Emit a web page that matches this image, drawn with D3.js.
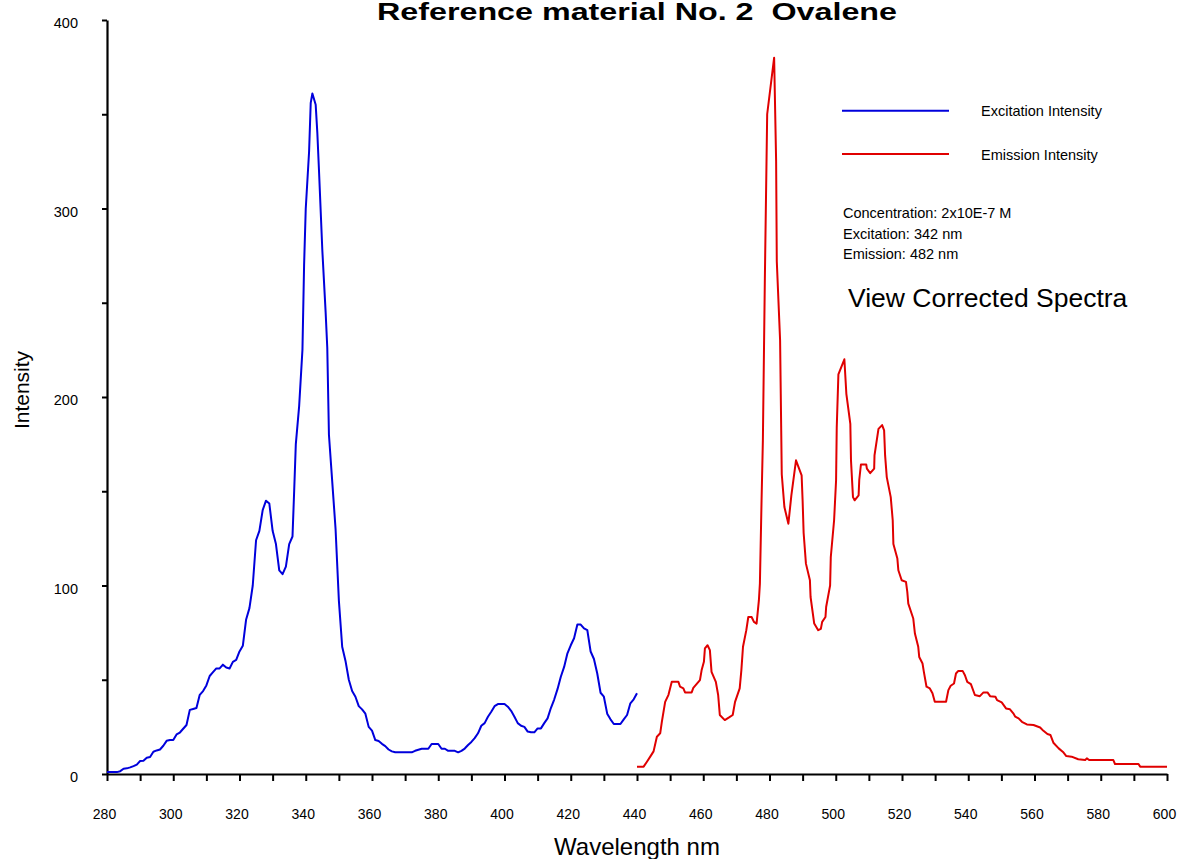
<!DOCTYPE html>
<html>
<head>
<meta charset="utf-8">
<script src="https://cdn.jsdelivr.net/npm/d3@7"></script>
<style>
  html, body { margin: 0; padding: 0; background: #fff; }
  svg { display: block; font-family: "Liberation Sans", Arial, sans-serif; }
</style>
</head>
<body>
<svg id="chart" width="1178" height="859"></svg>
<script>
// Ovalene reference spectra: excitation (blue) and emission (red), intensity vs wavelength
const excitationNm = [
  280, 283, 284, 285, 286, 287, 288, 289, 290, 291, 292, 293, 294, 295, 296, 297, 298, 299, 300,
  301, 302, 303, 304, 305, 306, 307, 308, 309, 310, 311, 312, 313, 314, 315, 316, 317, 318, 319, 320,
  321, 322, 323, 324, 325, 326, 327, 328, 329, 330, 331, 332, 333, 334, 335, 336, 336.5, 337, 338,
  339, 339.5, 340, 341, 341.5, 342, 343, 343.5, 344, 345, 346, 346.5, 347, 348, 349, 350, 351, 352,
  353, 354, 355, 356, 357, 358, 359, 360, 361, 362, 363, 364, 365, 366, 367, 372, 373, 375, 377, 378,
  380, 381, 382, 383, 385, 386, 387, 388, 389, 390, 391, 392, 393, 394, 395, 396, 397, 398, 399, 400,
  401, 402, 403, 404, 405, 406, 407, 408, 409, 410, 411, 412, 413, 414, 415, 416, 417, 418, 419, 420,
  421, 422, 423, 424, 425, 426, 427, 428, 429, 430, 431, 432, 433, 435, 436, 437, 438, 439, 440
];
const excitationIntensity = [
  1, 1, 1.5, 2.8, 3, 3.5, 4.2, 5, 6.9, 7, 8.6, 9, 11.8, 12.5, 13, 15, 17.6, 18, 18,
  21, 22, 24, 26, 34, 34.5, 35, 42, 44, 47, 52, 54, 56, 56, 58, 56.5, 56, 59.5, 60.5, 65,
  68, 82, 88, 100, 124, 129, 140, 145, 143.5, 129, 122, 108, 106, 110, 122, 126, 150, 175, 195,
  225, 270, 300, 330, 356, 361, 355, 340, 320, 278, 245, 226, 180, 155, 130, 92, 67.5, 60,
  50, 44, 41, 36, 34.3, 32, 25, 23, 18, 17.5, 16, 14.8, 13, 12, 11.5, 11.5, 12.3, 13.4, 13.4, 15.9,
  15.9, 13.4, 13.4, 12.3, 12.3, 11.5, 12.3, 13.5, 15.4, 17, 19, 21.6, 25.6, 27, 30.4, 33, 36, 37.1, 37.1, 37.1,
  35.7, 33.5, 30.4, 27, 25.6, 25, 22.5, 22.1, 22.1, 24.2, 24.2, 27, 29.5, 35, 39.5, 45, 51.6, 56.8, 64, 68.3,
  72, 79.3, 79.3, 77.2, 76.3, 65, 61, 53.3, 43.1, 41, 32, 29, 26.5, 26.5, 29, 31.3, 37.5, 39.6, 42.8
];

const emissionNm = [
  440, 442, 443, 444, 445, 446, 447, 447.5, 448.5, 449.5, 450.5, 452.5, 453, 454, 454.5, 456.5, 457,
  459, 459.5, 460.2, 460.5, 461.3, 462, 462.5, 463.8, 464.5, 465, 466.5, 467.8, 468.9, 469.6, 471,
  471.5, 472, 473, 473.6, 474.6, 475.3, 476.1, 476.8, 477.1, 477.6, 478, 478.6, 479.3, 481.4, 482,
  482.2, 483.2, 483.7, 484.5, 485.7, 486.6, 488, 489.7, 490, 490.3, 491, 492.2, 492.4, 493.5, 494.7,
  495.5, 495.9, 496.9, 497.1, 498.3, 498.5, 499.5, 500.1, 500.3, 500.8, 502.6, 503.2, 504.4, 504.6,
  505.2, 505.7, 506.9, 507.1, 507.6, 509.2, 509.4, 510.4, 511.6, 511.7, 512.9, 514, 514.6, 514.9,
  515.4, 516.6, 517.2, 517.4, 518.6, 518.9, 519.9, 521.2, 521.6, 521.9, 523.4, 523.9, 524.9, 525.2,
  526.2, 526.6, 527.4, 528.4, 529.2, 529.9, 533.3, 534, 534.7, 535.7, 536.3, 537, 538.3, 539, 539.7,
  540.8, 542, 543.5, 544.6, 545.8, 546.6, 548.2, 548.7, 550.1, 551.4, 552.6, 553.6, 554.2, 555.2,
  556.2, 557.7, 559.7, 561.7, 562.7, 563.9, 564.8, 565.7, 567.3, 568.6, 569.6, 571.2, 573.2, 575.3,
  575.8, 576.5, 583.8, 584.3, 591.4, 591.9, 600
];
const emissionIntensity = [
  3.9, 3.9, 6.5, 9.2, 12, 19.8, 21.6, 27.7, 38.3, 42, 48.9, 48.9, 46.3, 45.4, 43.3, 43.3, 45.7,
  49.8, 55, 59.5, 66.6, 68.3, 65.7, 54.2, 48.9, 41.9, 31.3, 28.6, 30, 31.3, 38.3, 45.4,
  55, 67.5, 76.3, 83.3, 83.3, 80.7, 79.8, 92.2, 101, 145, 177, 263, 350, 380, 325,
  272, 230, 159, 141.6, 132.8, 147.8, 166.4, 158.4, 145, 128, 111.6, 102.8, 93.9, 79.8, 76.3,
  77, 80.7, 83.3, 88.6, 100.1, 115, 134.6, 155.8, 184, 212, 220, 201.7, 185.8, 166.4,
  146.9, 145.2, 147.8, 156.1, 164.2, 164.2, 162, 159.6, 162, 169, 183.1, 185.1, 182.3, 169,
  157.5, 146.9, 134.6, 122, 114.3, 108.1, 102.8, 101.9, 96.6, 90.4, 82.5, 74.5, 67.5, 62.1,
  58.6, 54.2, 46.3, 45.4, 42.8, 38.3, 38.3, 44.5, 46.8, 48, 53.3, 54.7, 54.7, 52.4, 48.9,
  47.7, 41.9, 41.3, 43.3, 43.3, 41.3, 41, 39.2, 38, 34.8, 34.3, 32.2, 30.4, 29.5,
  27.7, 26.3, 26, 24.7, 22.9, 21.2, 20.7, 16.6, 13.6, 11.7, 9.5, 9.2, 7.8, 7.4,
  8.3, 7.4, 7.4, 5.3, 5.3, 3.9, 3.9
];

const xTickValues = d3.range(280, 601, 10);
const yTickValues = d3.range(0, 401, 50);
const seriesNames = ["Excitation Intensity", "Emission Intensity"];
const infoLines = ["Concentration: 2x10E-7 M", "Excitation: 342 nm", "Emission: 482 nm"];
const titleText = "Reference material No. 2  Ovalene";

const blue = "#0000dc";
const red = "#e00000";

const svg = d3.select("#chart");

const x = d3.scaleLinear().domain([280, 600]).range([107, 1167]);
const y = d3.scaleLinear().domain([0, 400]).range([774, 20]);

// Axes
const xAxis = svg.append("g")
  .attr("transform", `translate(0,${y(0)})`)
  .call(d3.axisBottom(x).tickValues(xTickValues).tickSize(7).tickSizeOuter(0)
    .tickFormat(d => d % 20 === 0 ? d : ""));
xAxis.select(".domain").attr("stroke", "#000").attr("stroke-width", 2.2);
xAxis.selectAll(".tick line").attr("stroke", "#000").attr("stroke-width", 2);
xAxis.selectAll(".tick text")
  .attr("x", -3).attr("y", 45).attr("dy", 0)
  .attr("fill", "#000").style("font-size", "14px")
  .style("font-family", "'Liberation Sans', Arial, sans-serif");

const yAxis = svg.append("g")
  .attr("transform", `translate(${x(280)},0)`)
  .call(d3.axisLeft(y).tickValues(yTickValues).tickSize(5).tickSizeOuter(0)
    .tickFormat(d => d % 100 === 0 ? d : ""));
yAxis.select(".domain").attr("stroke", "#000").attr("stroke-width", 2.2);
yAxis.selectAll(".tick line").attr("stroke", "#000").attr("stroke-width", 2);
yAxis.selectAll(".tick text")
  .attr("x", -29).attr("dy", "0.52em")
  .attr("fill", "#000").style("font-size", "14.5px")
  .style("font-family", "'Liberation Sans', Arial, sans-serif");

// Spectra
const line = d3.line().x(d => x(d[0])).y(d => y(d[1]));
const excitation = d3.zip(excitationNm, excitationIntensity);
const emission = d3.zip(emissionNm, emissionIntensity);

svg.append("path").datum(excitation)
  .attr("fill", "none").attr("stroke", blue).attr("stroke-width", 2)
  .attr("stroke-linejoin", "round").attr("d", line);
svg.append("path").datum(emission)
  .attr("fill", "none").attr("stroke", red).attr("stroke-width", 2)
  .attr("stroke-linejoin", "round").attr("d", line);

// Title and axis labels
svg.append("text").attr("x", 637).attr("y", 19.5).attr("text-anchor", "middle")
  .style("font-size", "24px").style("font-weight", "bold").style("white-space", "pre")
  .attr("textLength", 520).attr("lengthAdjust", "spacingAndGlyphs")
  .text(titleText);

svg.append("text").attr("x", 637).attr("y", 855).attr("text-anchor", "middle")
  .style("font-size", "24px").text("Wavelength nm");

svg.append("text").attr("transform", "translate(29,390) rotate(-90)")
  .attr("text-anchor", "middle").style("font-size", "21px").text("Intensity");

// Legend
const legend = svg.append("g");
const legendColors = [blue, red];
const legendY = [110.7, 154];
seriesNames.forEach((name, i) => {
  legend.append("line").attr("x1", 842).attr("x2", 949)
    .attr("y1", legendY[i]).attr("y2", legendY[i])
    .attr("stroke", legendColors[i]).attr("stroke-width", 2);
  legend.append("text").attr("x", 981).attr("y", legendY[i] + 5.5)
    .style("font-size", "14.5px").text(name);
});

// Measurement notes
infoLines.forEach((t, i) => {
  svg.append("text").attr("x", 843).attr("y", 218.3 + i * 20.5)
    .style("font-size", "14.5px").text(t);
});

svg.append("text").attr("x", 848).attr("y", 307)
  .style("font-size", "26.5px").text("View Corrected Spectra");
</script>
</body>
</html>
